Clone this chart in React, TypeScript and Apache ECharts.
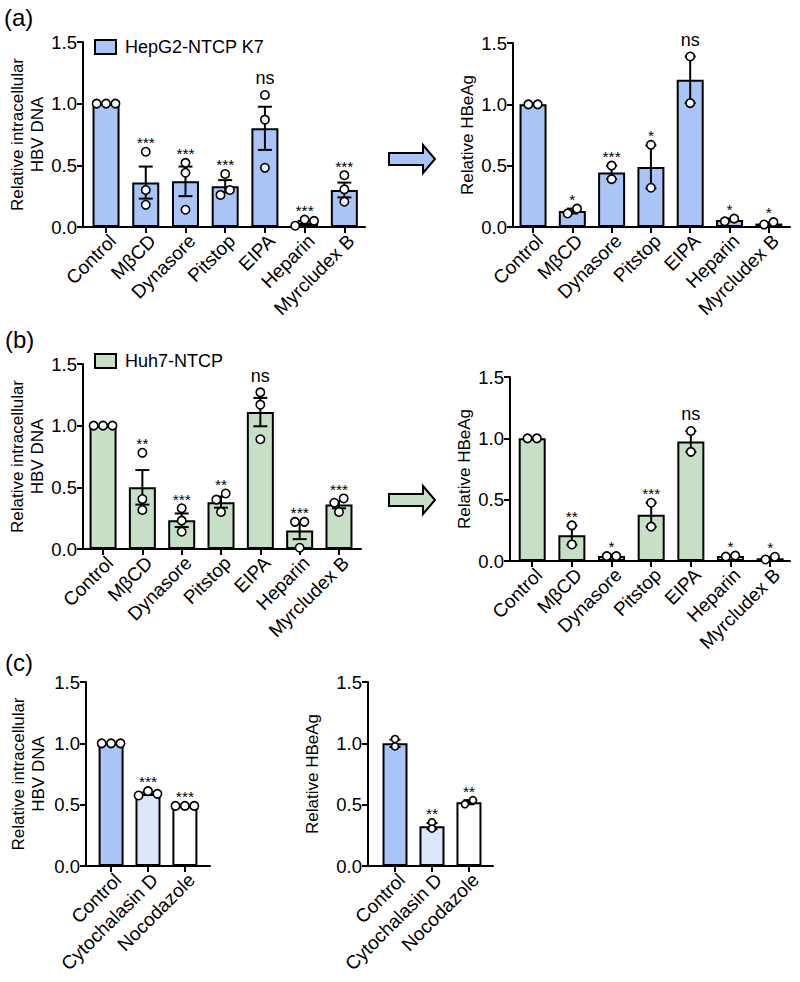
import React, { useEffect, useRef } from 'react';
import * as echarts from 'echarts';

// ---------- categories ----------
const catsAB = ['Control', 'MβCD', 'Dynasore', 'Pitstop', 'EIPA', 'Heparin', 'Myrcludex B'];
const catsC = ['Control', 'Cytochalasin D', 'Nocodazole'];

// ---------- (a) HepG2-NTCP K7 : intracellular HBV DNA ----------
const aDnaMean = [1.0, 0.36, 0.37, 0.33, 0.8, 0.035, 0.3];
const aDnaSem = [0, 0.13, 0.12, 0.05, 0.175, 0.013, 0.06];
const aDnaPoints = [[1, 1, 1], [0.61, 0.3, 0.18], [0.52, 0.44, 0.14], [0.26, 0.3, 0.43], [1.07, 0.87, 0.48], [0.01, 0.06, 0.05], [0.42, 0.305, 0.205]];
const aDnaSig = ['', '***', '***', '***', 'ns', '***', '***'];

// ---------- (a) HepG2-NTCP K7 : HBeAg ----------
const aHbMean = [1.0, 0.13, 0.445, 0.49, 1.2, 0.058, 0.028];
const aHbSem = [0, 0.02, 0.055, 0.175, 0.19, 0.011, 0.01];
const aHbPoints = [[1, 1], [0.11, 0.15], [0.5, 0.39], [0.67, 0.32], [1.39, 1.01], [0.046, 0.068], [0.02, 0.04]];
const aHbSig = ['', '*', '***', '*', 'ns', '*', '*'];

// ---------- (b) Huh7-NTCP : intracellular HBV DNA ----------
const bDnaMean = [1.0, 0.5, 0.233, 0.38, 1.11, 0.15, 0.36];
const bDnaSem = [0, 0.14, 0.055, 0.045, 0.115, 0.07, 0.03];
const bDnaPoints = [[1, 1, 1], [0.78, 0.405, 0.316], [0.33, 0.23, 0.14], [0.4, 0.45, 0.3], [1.27, 1.17, 0.89], [0.22, 0.22, 0.01], [0.375, 0.41, 0.3]];
const bDnaSig = ['', '**', '***', '**', 'ns', '***', '***'];

// ---------- (b) Huh7-NTCP : HBeAg ----------
const bHbMean = [1.0, 0.21, 0.04, 0.377, 0.975, 0.04, 0.022];
const bHbSem = [0, 0.078, 0.003, 0.098, 0.085, 0.004, 0.011];
const bHbPoints = [[1, 1], [0.29, 0.135], [0.04, 0.04], [0.475, 0.28], [1.06, 0.89], [0.036, 0.044], [0.012, 0.035]];
const bHbSig = ['', '**', '*', '***', 'ns', '*', '*'];

// ---------- (c) intracellular HBV DNA ----------
const cDnaMean = [1.0, 0.59, 0.49];
const cDnaSem = [0, 0.01, 0.003];
const cDnaPoints = [[1, 1, 1], [0.575, 0.61, 0.588], [0.49, 0.49, 0.49]];
const cDnaSig = ['', '***', '***'];

// ---------- (c) HBeAg ----------
const cHbMean = [1.0, 0.325, 0.52];
const cHbSem = [0.03, 0.025, 0.017];
const cHbPoints = [[1.035, 0.975], [0.355, 0.305], [0.504, 0.537]];
const cHbSig = ['', '**', '**'];

const BLUE = '#a9c5f8';
const GREEN = '#c6dfc6';
const LIGHT = '#dde7fb';
const WHITE = '#ffffff';
const FONT = '"Liberation Sans", Arial, Helvetica, sans-serif';

function jitter(ys: number[], r: number): number[] {
  const n = ys.length;
  const thr = 2 * r - 1.5;
  const sp = 2 * r + 1;
  const order = ys.map((_, i) => i).sort((a, b) => ys[a] - ys[b]);
  const offs = new Array(n).fill(0);
  let cluster = [order[0]];
  const flush = () => {
    if (cluster.length > 1) {
      const c = [...cluster].sort((a, b) => a - b);
      c.forEach((idx, j) => { offs[idx] = (j - (c.length - 1) / 2) * sp; });
    }
  };
  for (let k = 1; k < n; k++) {
    const prev = order[k - 1];
    const cur = order[k];
    if (Math.abs(ys[cur] - ys[prev]) < thr) cluster.push(cur);
    else { flush(); cluster = [cur]; }
  }
  flush();
  return offs;
}

type Panel = {
  name: string; cats: string[]; mean: number[]; sem: number[]; pts: number[][]; sig: string[];
  colors: string[]; color: string; grid: any; xMin: number; xMax: number; yName: string; nameGap: number;
  barWidth: number; r: number; cap: number;
};

const panels: Panel[] = [
  { name: 'HepG2-NTCP K7', cats: catsAB, mean: aDnaMean, sem: aDnaSem, pts: aDnaPoints, sig: aDnaSig, color: BLUE, colors: catsAB.map(() => BLUE),
    grid: { left: 83, top: 42, width: 282, height: 185 }, xMin: -0.58, xMax: 6.52, yName: 'Relative intracellular\nHBV DNA', nameGap: 35, barWidth: 27, r: 4.2, cap: 14 },
  { name: 'HepG2 HBeAg', cats: catsAB, mean: aHbMean, sem: aHbSem, pts: aHbPoints, sig: aHbSig, color: BLUE, colors: catsAB.map(() => BLUE),
    grid: { left: 513, top: 43, width: 277, height: 184 }, xMin: -0.51, xMax: 6.54, yName: 'Relative HBeAg', nameGap: 36, barWidth: 27, r: 4.2, cap: 11 },
  { name: 'Huh7-NTCP', cats: catsAB, mean: bDnaMean, sem: bDnaSem, pts: bDnaPoints, sig: bDnaSig, color: GREEN, colors: catsAB.map(() => GREEN),
    grid: { left: 83, top: 364, width: 278, height: 185 }, xMin: -0.51, xMax: 6.56, yName: 'Relative intracellular\nHBV DNA', nameGap: 35, barWidth: 27, r: 4.2, cap: 14 },
  { name: 'Huh7 HBeAg', cats: catsAB, mean: bHbMean, sem: bHbSem, pts: bHbPoints, sig: bHbSig, color: GREEN, colors: catsAB.map(() => GREEN),
    grid: { left: 510, top: 377, width: 280, height: 184 }, xMin: -0.56, xMax: 6.5, yName: 'Relative HBeAg', nameGap: 36, barWidth: 27, r: 4.2, cap: 11 },
  { name: 'C DNA', cats: catsC, mean: cDnaMean, sem: cDnaSem, pts: cDnaPoints, sig: cDnaSig, color: BLUE, colors: [BLUE, LIGHT, WHITE],
    grid: { left: 86, top: 682, width: 124, height: 184 }, xMin: -0.68, xMax: 2.68, yName: 'Relative intracellular\nHBV DNA', nameGap: 38, barWidth: 25, r: 4.2, cap: 12 },
  { name: 'C HBeAg', cats: catsC, mean: cHbMean, sem: cHbSem, pts: cHbPoints, sig: cHbSig, color: BLUE, colors: [BLUE, LIGHT, WHITE],
    grid: { left: 368, top: 682, width: 125, height: 184 }, xMin: -0.73, xMax: 2.65, yName: 'Relative HBeAg', nameGap: 46, barWidth: 25, r: 3.5, cap: 11 },
];

function makeRender(p: Panel) {
  return (params: any, api: any) => {
    const i = params.dataIndex;
    const x = api.value(0);
    const m = api.value(1);
    const s = api.value(2);
    const base = api.coord([x, 0]);
    const cx = base[0];
    const children: any[] = [];
    const ls = { stroke: '#000', lineWidth: 2 };
    if (s > 0) {
      const yt = api.coord([x, m + s])[1];
      const yb = api.coord([x, m - s])[1];
      children.push({ type: 'line', shape: { x1: cx, y1: yt, x2: cx, y2: yb }, style: ls });
      children.push({ type: 'line', shape: { x1: cx - p.cap / 2, y1: yt, x2: cx + p.cap / 2, y2: yt }, style: ls });
      children.push({ type: 'line', shape: { x1: cx - p.cap / 2, y1: yb, x2: cx + p.cap / 2, y2: yb }, style: ls });
    }
    const pts = p.pts[i];
    const ys = pts.map((v) => api.coord([x, v])[1]);
    const offs = jitter(ys, p.r);
    pts.forEach((_, k) => {
      children.push({ type: 'circle', shape: { cx: cx + offs[k], cy: ys[k], r: p.r }, style: { fill: '#fff', stroke: '#000', lineWidth: 1.6 } });
    });
    const sig = p.sig[i];
    if (sig) {
      const topV = Math.max(m + s, ...pts);
      const yTop = api.coord([x, topV])[1] - p.r;
      if (sig === 'ns') {
        children.push({ type: 'text', x: cx, y: yTop - 3.5, style: { text: sig, fontSize: 18, fontFamily: FONT, fill: '#000', align: 'center', verticalAlign: 'bottom' } });
      } else {
        children.push({ type: 'text', x: cx, y: yTop - 5, style: { text: sig, fontSize: 15.5, fontFamily: FONT, fill: '#000', align: 'center', verticalAlign: 'middle' } });
      }
    }
    return { type: 'group', children };
  };
}

function buildOption() {
  const grid: any[] = [];
  const xAxis: any[] = [];
  const yAxis: any[] = [];
  const series: any[] = [];
  panels.forEach((p, gi) => {
    grid.push({ ...p.grid, containLabel: false });
    const idx = p.cats.map((_, i) => i);
    xAxis.push({
      type: 'value', gridIndex: gi, min: p.xMin, max: p.xMax,
      axisLine: { show: true, onZero: false, lineStyle: { color: '#000', width: 2 } },
      axisTick: { show: true, customValues: idx, length: 6, lineStyle: { color: '#000', width: 2 } },
      axisLabel: { customValues: idx, formatter: (v: number) => p.cats[Math.round(v)], rotate: 45, fontSize: 19, color: '#000', fontFamily: FONT, margin: 4, verticalAlign: 'top', align: 'right' },
      splitLine: { show: false },
    });
    yAxis.push({
      type: 'value', gridIndex: gi, min: 0, max: 1.5, interval: 0.5,
      axisLine: { show: true, onZero: false, lineStyle: { color: '#000', width: 2 } },
      axisTick: { show: true, length: 6, lineStyle: { color: '#000', width: 2 } },
      axisLabel: { formatter: (v: number) => v.toFixed(1), fontSize: 18.5, color: '#000', fontFamily: FONT, margin: 6 },
      splitLine: { show: false },
      name: p.yName, nameLocation: 'middle', nameRotate: 90, nameGap: p.nameGap,
      nameTextStyle: { fontSize: 17, color: '#000', fontFamily: FONT, lineHeight: 20 },
    });
    series.push({
      type: 'bar', name: p.name, xAxisIndex: gi, yAxisIndex: gi, barWidth: p.barWidth,
      itemStyle: { color: p.color, borderColor: '#000', borderWidth: 2 },
      data: p.mean.map((m, i) => ({ value: [i, m], itemStyle: { color: p.colors[i] } })),
      silent: true, z: 2,
    });
    series.push({
      type: 'custom', name: p.name + ' pts', xAxisIndex: gi, yAxisIndex: gi,
      data: p.mean.map((m, i) => [i, m, p.sem[i]]),
      encode: { x: 0, y: 1 }, renderItem: makeRender(p), clip: false, silent: true, z: 5,
    });
  });

  const legendCommon = {
    icon: 'rect', itemWidth: 21, itemHeight: 14, orient: 'horizontal', padding: 0,
    textStyle: { fontSize: 18, color: '#000', fontFamily: FONT, padding: [0, 0, 0, 4] },
    itemStyle: { borderColor: '#000', borderWidth: 2 },
    selectedMode: false,
  };

  const arrow = (y: number, fill: string) => ({
    type: 'polygon',
    shape: { points: [[389, y - 6], [423, y - 6], [423, y - 14], [435, y], [423, y + 14], [423, y + 6], [389, y + 6]] },
    style: { fill, stroke: '#000', lineWidth: 2 },
  });
  const label = (t: string, x: number, y: number) => ({
    type: 'text', x, y, style: { text: t, fontSize: 24, fontFamily: FONT, fill: '#000' },
  });

  return {
    animation: false,
    backgroundColor: '#fff',
    textStyle: { fontFamily: FONT },
    grid, xAxis, yAxis, series,
    legend: [
      { ...legendCommon, data: ['HepG2-NTCP K7'], left: 94, top: 38 },
      { ...legendCommon, data: ['Huh7-NTCP'], left: 94, top: 352 },
    ],
    graphic: [
      arrow(159, BLUE),
      arrow(500, GREEN),
      label('(a)', 4, 5),
      label('(b)', 5, 327),
      label('(c)', 5, 650),
    ],
  };
}

export default function App() {
  const ref = useRef<HTMLDivElement>(null);
  useEffect(() => {
    document.body.style.margin = '0';
    if (!ref.current) return;
    const chart = echarts.init(ref.current, null, { renderer: 'svg' });
    chart.setOption(buildOption() as any);
    return () => chart.dispose();
  }, []);
  return <div ref={ref} style={{ width: 800, height: 982 }} />;
}
